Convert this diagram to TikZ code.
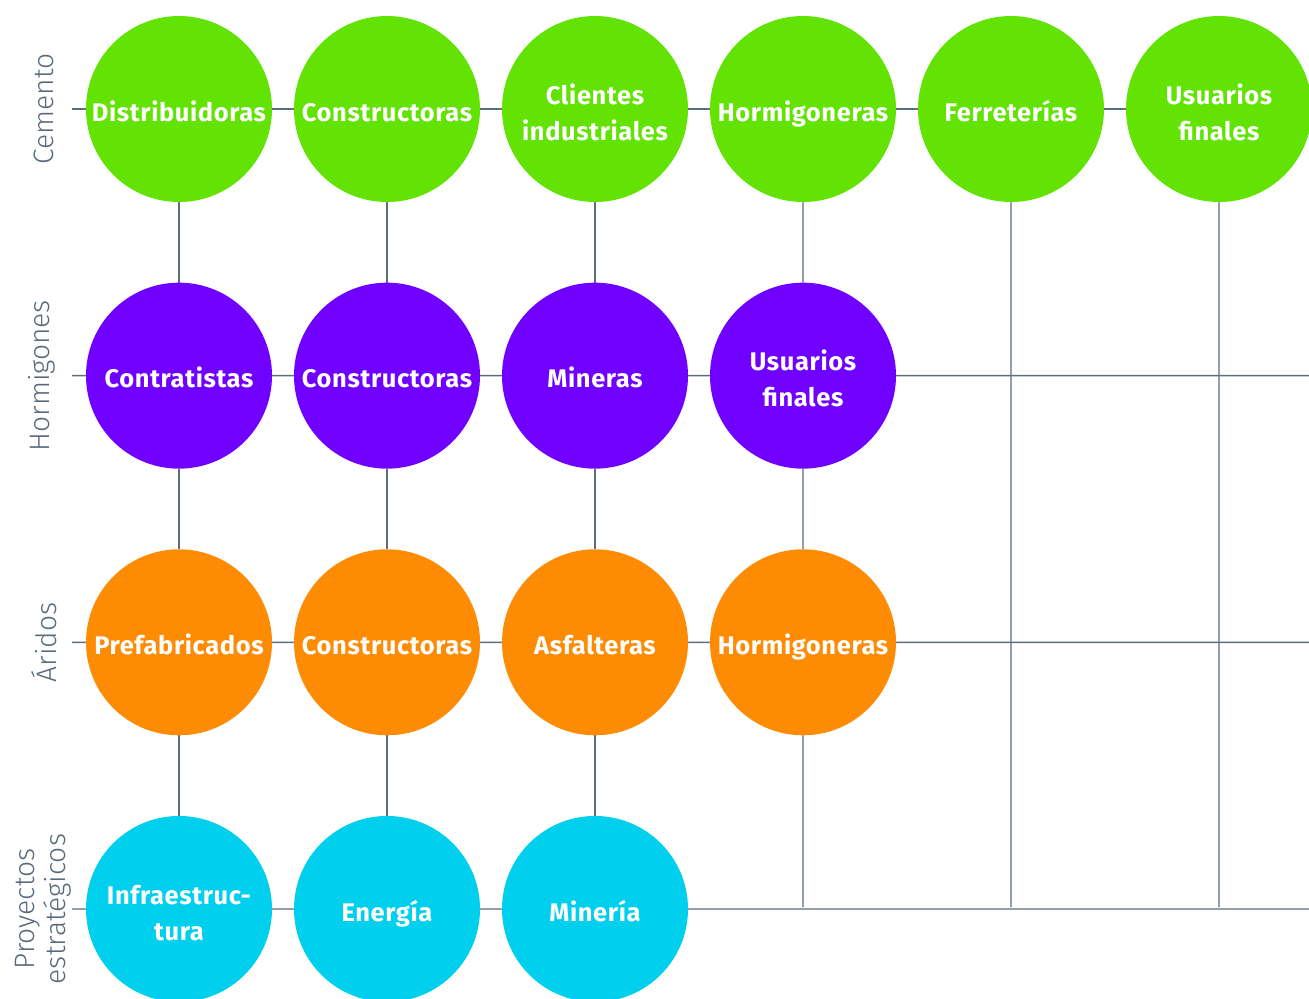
\documentclass[tikz,border=0pt]{standalone}
\usepackage{fontspec}
\setsansfont{Fira Sans}
\newfontfamily\circlefont{Fira Sans Bold}[LetterSpace=2.5]
\newfontfamily\lightfont{Fira Sans Light}
\usetikzlibrary{positioning}
\pgfdeclarelayer{bg}
\pgfsetlayers{bg,main}
\definecolor{cemgreen}{HTML}{62E304}
\definecolor{horpurple}{HTML}{7000FF}
\definecolor{ariorange}{HTML}{FD8C04}
\definecolor{proycyan}{HTML}{00CFEE}
\definecolor{gridgray}{HTML}{5C6C7C}
\definecolor{labelgray}{HTML}{5A6A7C}
\tikzset{
  market/.style={circle, minimum size=3.72cm, inner sep=0pt, outer sep=0pt, text=white,
    align=center, text height=14pt, text depth=0pt,
    font=\circlefont\fontsize{14.5}{20.5}\selectfont},
  twoline/.style={text height=35.5pt, text depth=0pt},
  gridline/.style={color=gridgray, line width=0.8pt},
  rowlabel/.style={rotate=90, text=labelgray, align=center,
    font=\lightfont\fontsize{16}{17.5}\selectfont}
}
\begin{document}
\begin{tikzpicture}
  \useasboundingbox (0,0) rectangle (26.18,-19.96);
  % cemento
  \node[market, fill=cemgreen] (cem1) at (3.58,-2.18) {Distribuidoras};
  \node[market, fill=cemgreen, right=0.44cm of cem1] (cem2) {Constructoras};
  \node[market, twoline, fill=cemgreen, right=0.44cm of cem2] (cem3) {Clientes\\industriales};
  \node[market, fill=cemgreen, right=0.44cm of cem3] (cem4) {Hormigoneras};
  \node[market, fill=cemgreen, right=0.44cm of cem4] (cem5) {Ferreterías};
  \node[market, twoline, fill=cemgreen, right=0.44cm of cem5] (cem6) {Usuarios\\finales};
  % hormigones
  \node[market, fill=horpurple, below=1.613cm of cem1] (hor1) {Contratistas};
  \node[market, fill=horpurple, right=0.44cm of hor1] (hor2) {Constructoras};
  \node[market, fill=horpurple, right=0.44cm of hor2] (hor3) {Mineras};
  \node[market, twoline, fill=horpurple, right=0.44cm of hor3] (hor4) {Usuarios\\finales};
  % aridos
  \node[market, fill=ariorange, below=1.613cm of hor1] (ari1) {Prefabricados};
  \node[market, fill=ariorange, right=0.44cm of ari1] (ari2) {Constructoras};
  \node[market, fill=ariorange, right=0.44cm of ari2] (ari3) {Asfalteras};
  \node[market, fill=ariorange, right=0.44cm of ari3] (ari4) {Hormigoneras};
  % proyectos estrategicos
  \node[market, twoline, fill=proycyan, below=1.613cm of ari1] (proy1) {Infraestruc-\\tura};
  \node[market, fill=proycyan, right=0.44cm of proy1] (proy2) {Energía};
  \node[market, fill=proycyan, right=0.44cm of proy2] (proy3) {Minería};

  % row labels
  \node[rowlabel] (labcem) at (0.88,-2.18) {Cemento};
  \node[rowlabel] (labhor) at (0.84,-7.513) {Hormigones};
  \node[rowlabel] (labari) at (0.89,-12.846) {Áridos};
  \node[rowlabel] (labproy) at (0.86,-18.18) {Proyectos\\estratégicos};

  \coordinate (cemL) at (1.44,-2.18);    \coordinate (cemR) at (26.18,-2.18);
  \coordinate (horL) at (1.44,-7.513);   \coordinate (horR) at (26.18,-7.513);
  \coordinate (ariL) at (1.44,-12.846);  \coordinate (ariR) at (26.18,-12.846);
  \coordinate (proyL) at (1.44,-18.18);  \coordinate (proyR) at (26.18,-18.18);
  \coordinate (end4) at (16.06,-18.14);
  \coordinate (end5) at (20.22,-18.14);
  \coordinate (end6) at (24.38,-18.14);

  \begin{pgfonlayer}{bg}
    \draw[gridline] (cemL) -- (cem1) (cem1) -- (cem2) (cem2) -- (cem3) (cem3) -- (cem4)
                    (cem4) -- (cem5) (cem5) -- (cem6) (cem6) -- (cemR);
    \draw[gridline] (horL) -- (hor1) (hor1) -- (hor2) (hor2) -- (hor3) (hor3) -- (hor4)
                    (hor4) -- (horR);
    \draw[gridline] (ariL) -- (ari1) (ari1) -- (ari2) (ari2) -- (ari3) (ari3) -- (ari4)
                    (ari4) -- (ariR);
    \draw[gridline] (proyL) -- (proy1) (proy1) -- (proy2) (proy2) -- (proy3)
                    (proy3) -- (proyR);
    \draw[gridline] (cem1) -- (hor1) (hor1) -- (ari1) (ari1) -- (proy1);
    \draw[gridline] (cem2) -- (hor2) (hor2) -- (ari2) (ari2) -- (proy2);
    \draw[gridline] (cem3) -- (hor3) (hor3) -- (ari3) (ari3) -- (proy3);
    \draw[gridline] (cem4) -- (hor4) (hor4) -- (ari4) (ari4) -- (end4);
    \draw[gridline] (cem5) -- (end5);
    \draw[gridline] (cem6) -- (end6);
  \end{pgfonlayer}
\end{tikzpicture}
\end{document}
